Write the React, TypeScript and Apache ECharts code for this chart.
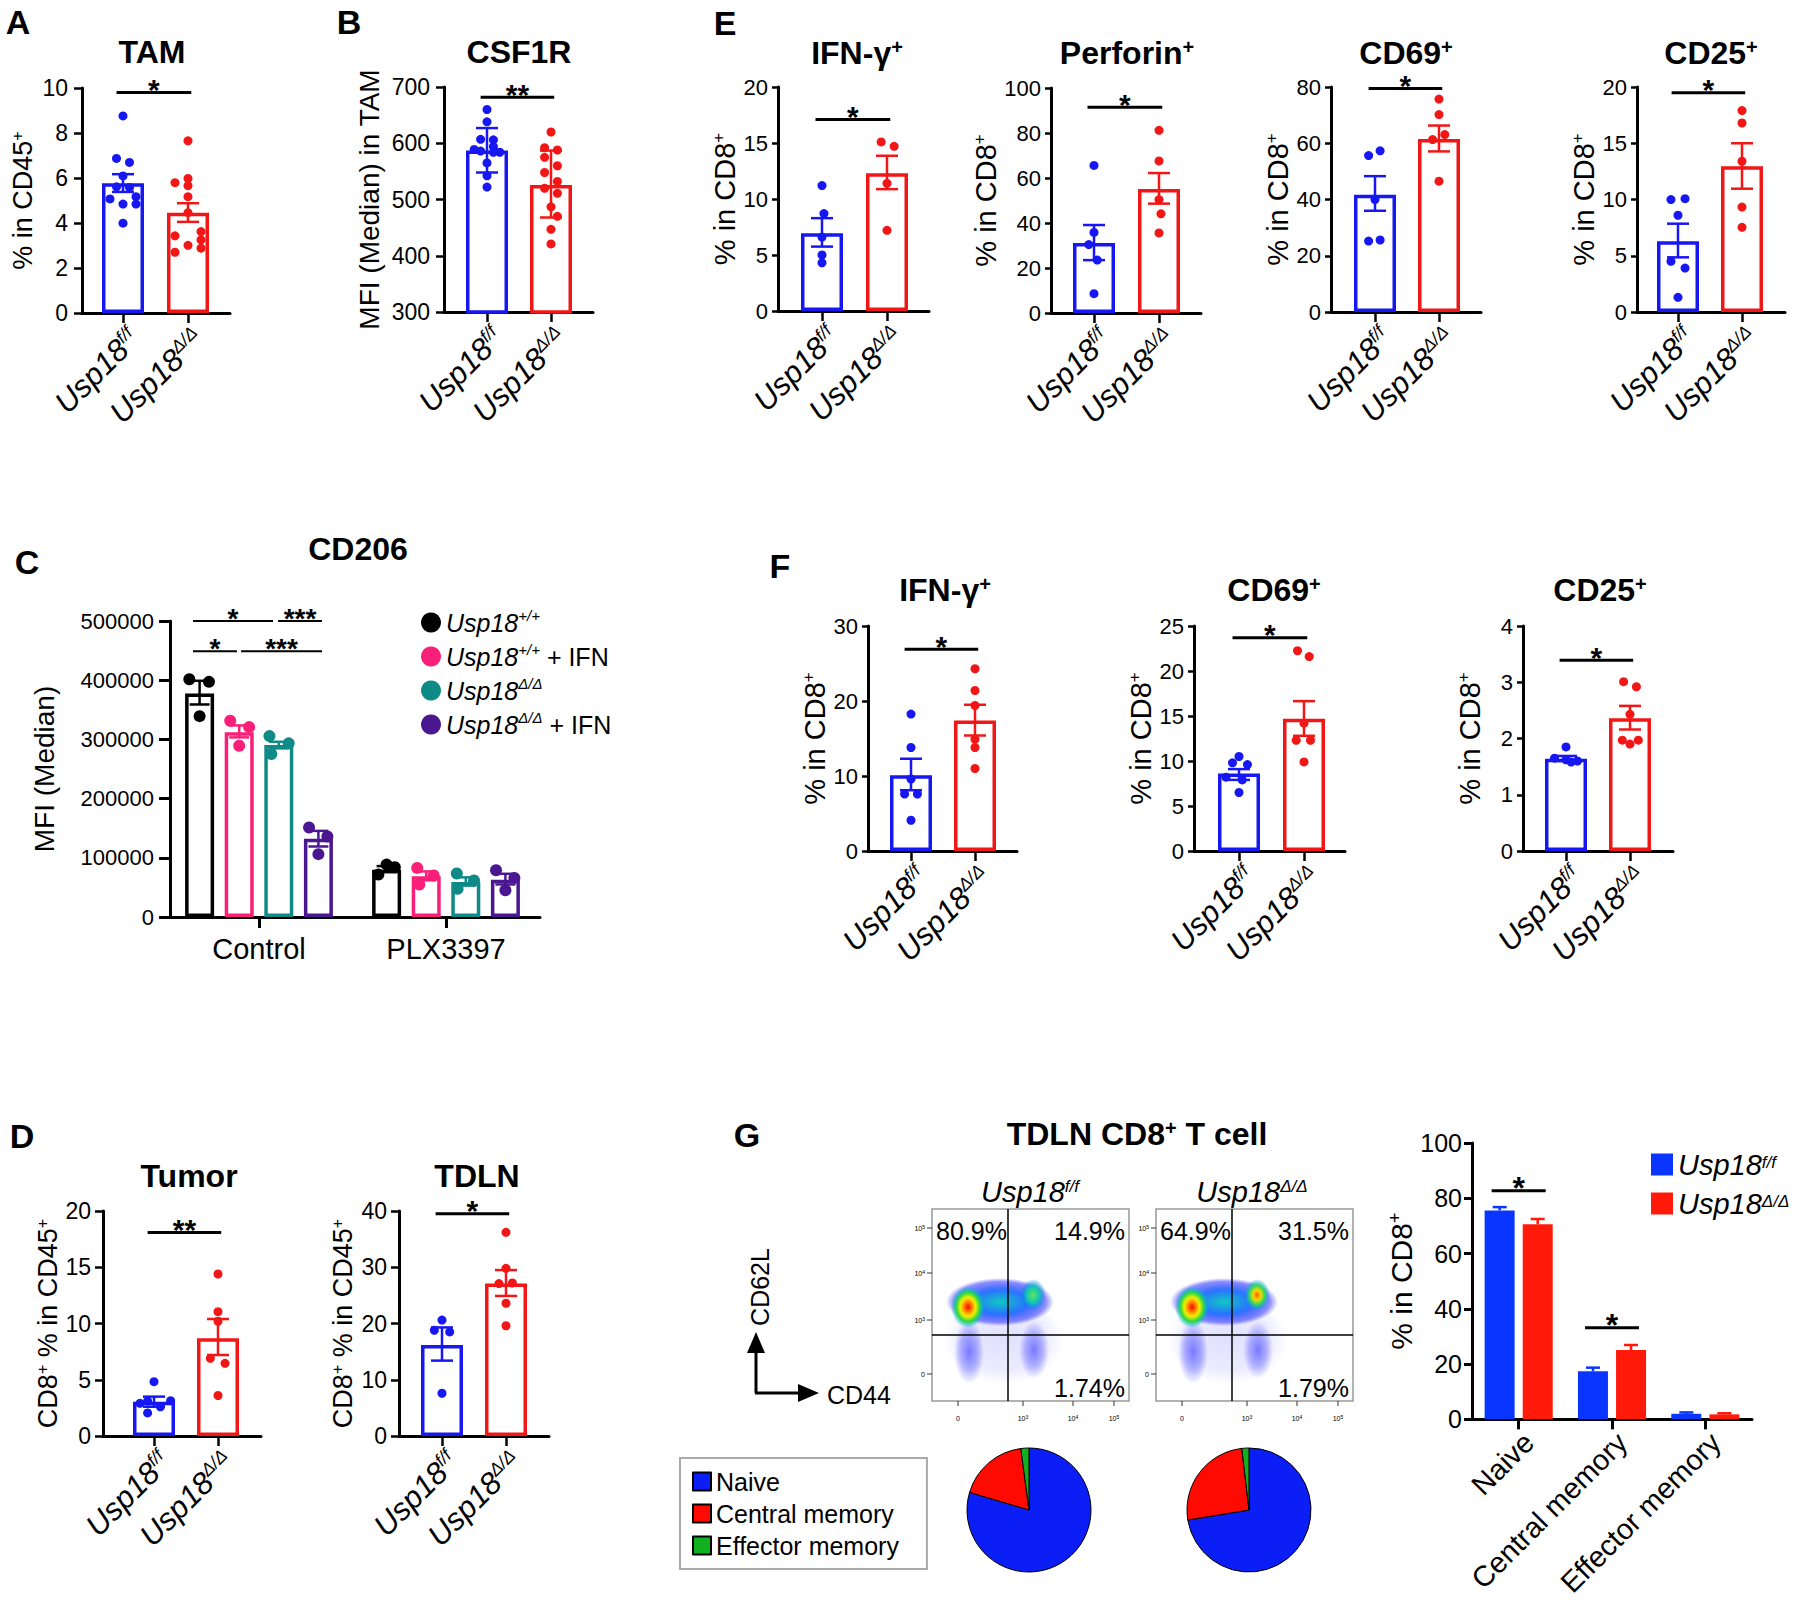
import React, { useEffect, useRef } from "react";
import * as echarts from "echarts";

const FONT = '"Liberation Sans", Arial, Helvetica, sans-serif';
const BLUE = "#1717f2";
const RED = "#f21717";
const BLACK = "#000000";
const PINK = "#fa1f78";
const TEAL = "#0e8b86";
const PURPLE = "#4a1790";
const G_BLUE = "#0a35ff";
const G_RED = "#ff1a0a";
const PIE_BLUE = "#0a1ef5";
const PIE_RED = "#ff0a00";
const PIE_GREEN = "#10b020";

// ---------------- data ----------------
const genoBase = ["Usp18", "Usp18"];
const genoSup = ["f/f", "Δ/Δ"];

// A  TAM (% in CD45+)
const tamMean = [5.77, 4.46];
const tamLow = [5.38, 4.05];
const tamHigh = [6.17, 4.88];
const tamFF = [8.76, 6.87, 6.69, 6.09, 5.61, 5.58, 5.17, 5.07, 4.84, 4.84, 3.99];
const tamFFJit = [0, -0.1, 0.1, 0, -0.1, 0.1, 0.2, -0.2, 0, 0.2, 0];
const tamDD = [7.65, 5.98, 5.79, 5.66, 5.17, 4.46, 3.62, 3.43, 3.25, 3.01, 2.88, 2.7];
const tamDDJit = [0, 0, -0.2, 0, 0, 0, 0.2, -0.2, 0.2, 0, 0.2, -0.2];

// B  CSF1R MFI in TAM
const csfMean = [587, 526];
const csfLow = [548, 468];
const csfHigh = [627, 587];
const csfFF = [660, 638, 607, 606, 594, 589, 586, 584, 584, 565, 542, 522];
const csfFFJit = [0, 0, -0.1, 0.1, 0.1, -0.2, -0.1, 0.1, 0.2, 0, 0, 0];
const csfDD = [620, 592, 588, 575, 560, 548, 532, 520, 511, 487, 470, 447, 421];
const csfDDJit = [0, -0.1, 0.1, -0.1, 0.1, -0.1, 0.1, -0.1, 0.1, 0, 0.1, 0, 0];

// E  tumour CD8 (IFN-γ, Perforin, CD69, CD25)
const e1Mean = [6.94, 12.31];
const e1Low = [5.75, 10.88];
const e1High = [8.29, 13.86];
const e1FF = [11.2, 8.7, 6.6, 5.0, 4.3];
const e1FFJit = [0, 0.03, 0, 0, 0];
const e1DD = [15.1, 14.7, 11.4, 7.2];
const e1DDJit = [-0.09, 0.11, 0, 0];

const e2Mean = [31.1, 55.1];
const e2Low = [23.5, 48.6];
const e2High = [39.1, 62.2];
const e2FF = [65.6, 35.8, 30.4, 23.5, 8.6];
const e2FFJit = [0, 0, -0.08, 0.05, 0];
const e2DD = [81.2, 67.6, 50.4, 44.1, 35.6];
const e2DDJit = [0, 0, 0, 0.03, 0];

const e3Mean = [41.7, 61.5];
const e3Low = [36.0, 57.1];
const e3High = [48.3, 66.3];
const e3FF = [57.3, 55.6, 40.0, 25.6, 25.2];
const e3FFJit = [0.08, -0.1, 0, 0.08, -0.1];
const e3DD = [75.7, 70.2, 63.1, 61.3, 46.5];
const e3DDJit = [0, 0, 0.09, -0.1, 0];

const e4Mean = [6.28, 12.95];
const e4Low = [4.86, 10.96];
const e4High = [7.85, 15.0];
const e4FF = [10.07, 9.99, 8.6, 4.5, 3.9, 1.3];
const e4FFJit = [0.11, -0.11, 0, -0.11, 0.11, 0];
const e4DD = [17.9, 16.8, 13.4, 9.33, 7.53];
const e4DDJit = [0, 0, 0, 0, 0];

// F  TDLN CD8 (IFN-γ, CD69, CD25)
const f1Mean = [10.1, 17.4];
const f1Low = [8.1, 15.4];
const f1High = [12.3, 19.5];
const f1FF = [18.25, 13.8, 9.6, 7.6, 7.6, 4.1];
const f1FFJit = [0, 0, 0, -0.1, 0.1, 0];
const f1DD = [24.3, 21.4, 19.4, 14.9, 13.8, 11.0];
const f1DDJit = [0, 0, 0, 0, 0, 0];

const f2Mean = [8.6, 14.7];
const f2Low = [7.9, 12.8];
const f2High = [9.1, 16.65];
const f2FF = [10.5, 9.8, 9.6, 8.2, 7.9, 6.5];
const f2FFJit = [0, -0.1, 0.13, -0.2, 0.05, 0];
const f2DD = [22.25, 21.6, 14.2, 12.3, 12.3, 9.9];
const f2DDJit = [-0.1, 0.08, 0, -0.12, 0.1, 0];

const f3Mean = [1.64, 2.36];
const f3Low = [1.6, 2.16];
const f3High = [1.69, 2.58];
const f3FF = [1.85, 1.65, 1.62, 1.6, 1.58];
const f3FFJit = [0, -0.18, 0, 0.18, 0.08];
const f3DD = [3.01, 2.92, 2.43, 1.97, 1.97, 1.9];
const f3DDJit = [-0.1, 0.1, 0, -0.12, 0.13, 0];

// D  CD8+ % in CD45+
const tumMean = [3.05, 8.7];
const tumLow = [2.6, 7.2];
const tumHigh = [3.5, 10.4];
const tumFF = [4.83, 3.14, 3.1, 2.9, 2.6, 2.05];
const tumFFJit = [0, 0.26, -0.1, -0.22, 0.1, -0.1];
const tumDD = [14.4, 11.05, 10.2, 6.9, 6.46, 3.6];
const tumDDJit = [0, 0, 0, -0.12, 0.11, 0];

const tdlnMean = [16.2, 27.1];
const tdlnLow = [13.4, 24.9];
const tdlnHigh = [19.3, 29.5];
const tdlnFF = [20.6, 18.8, 18.5, 7.6];
const tdlnFFJit = [0, -0.12, 0.12, 0];
const tdlnDD = [36.2, 29.8, 27.2, 27.1, 23.6, 19.6];
const tdlnDDJit = [0, 0, 0.1, -0.11, 0, 0];

// C  CD206 MFI
const cdCats = ["Control", "PLX3397"];
const cdGroupNames = ["Usp18+/+", "Usp18+/+ + IFN", "Usp18Δ/Δ", "Usp18Δ/Δ + IFN"];
const cdGroupSup = ["+/+", "+/+", "Δ/Δ", "Δ/Δ"];
const cdGroupSuffix = ["", " + IFN", "", " + IFN"];
const cdMeanWT = [377500, 80000];
const cdMeanWTIFN = [312000, 69000];
const cdMeanKO = [290400, 59000];
const cdMeanKOIFN = [132000, 63000];
const cdLowWT = [359000, 76000];
const cdHighWT = [399000, 86000];
const cdLowWTIFN = [303400, 62000];
const cdHighWTIFN = [323600, 77000];
const cdLowKO = [284800, 53000];
const cdHighKO = [296000, 67000];
const cdLowKOIFN = [119100, 55000];
const cdHighKOIFN = [145500, 73000];
const cdPtsWT = [[401700, 397200, 339300], [71700, 88500, 84000]];
const cdPtsWTIFN = [[331500, 320800, 289300], [82900, 70000, 54900]];
const cdPtsKO = [[305600, 293300, 275300], [73400, 61600, 47600]];
const cdPtsKOIFN = [[151100, 136000, 106200], [78900, 66000, 45300]];
const cdJitWT = [[-0.055, 0.05, 0], [-0.044, 0, 0.044]];
const cdJitWTIFN = [[-0.048, 0.053, 0], [-0.048, 0.04, -0.037]];
const cdJitKO = [[-0.05, 0.053, -0.04], [-0.048, 0.044, -0.044]];
const cdJitKOIFN = [[-0.05, 0.048, 0], [-0.05, 0.048, 0]];
const cdSigFrom = [-0.353, 0.102, -0.353, -0.096];
const cdSigTo = [0.075, 0.337, -0.118, 0.337];
const cdSigY = [500000, 500000, 449000, 449000];
const cdSigText = ["*", "***", "*", "***"];

// G  TDLN CD8+ T cell subsets
const gCats = ["Naive", "Central memory", "Effector memory"];
const gFF = [75.6, 17.4, 2.0];
const gFFHigh = [76.8, 18.7, 2.5];
const gDD = [70.6, 25.1, 1.8];
const gDDHigh = [72.5, 26.9, 2.2];
const gSigY = [82.7, 33.1];
const flowFF = ["80.9%", "14.9%", "1.74%"];
const flowDD = ["64.9%", "31.5%", "1.79%"];

// ---------------- helpers ----------------
const supRich = (fs: number, italic: boolean, bold?: boolean, supRatio = 0.6) => ({
  t: { fontSize: fs, fontFamily: FONT, color: "#000", fontStyle: italic ? "italic" : "normal", fontWeight: bold ? "bold" : "normal" },
  s: { fontSize: Math.round(fs * supRatio), fontFamily: FONT, color: "#000", fontStyle: italic ? "italic" : "normal", fontWeight: bold ? "bold" : "normal", verticalAlign: "top" },
});

const geno = (i: number) => `{t|${genoBase[i]}}{s|${genoSup[i]}}`;

function errSeries(gi: number, data: number[][], colors: string[], capHalf: number, lw: number, upperOnly: boolean, pxOff?: number[]) {
  return {
    type: "custom", xAxisIndex: gi, yAxisIndex: gi, z: 5, silent: true, data,
    renderItem: (params: any, api: any) => {
      const x = api.value(0);
      const pl = api.coord([x, api.value(1)]);
      const ph = api.coord([x, api.value(2)]);
      const cx = ph[0] + (pxOff ? pxOff[params.dataIndex] : 0);
      const st = { stroke: colors[params.dataIndex], lineWidth: lw };
      const ch: any[] = [
        { type: "line", shape: { x1: cx, y1: pl[1], x2: cx, y2: ph[1] }, style: st },
        { type: "line", shape: { x1: cx - capHalf, y1: ph[1], x2: cx + capHalf, y2: ph[1] }, style: st },
      ];
      if (!upperOnly) ch.push({ type: "line", shape: { x1: cx - capHalf, y1: pl[1], x2: cx + capHalf, y2: pl[1] }, style: st });
      return { type: "group", children: ch };
    },
  };
}

function sigSeries(gi: number, data: number[][], labels: string[], fs: number, lw: number, pxExt: number) {
  return {
    type: "custom", xAxisIndex: gi, yAxisIndex: gi, z: 6, silent: true, data,
    renderItem: (params: any, api: any) => {
      const y = api.value(2);
      const p0 = api.coord([api.value(0), y]);
      const p1 = api.coord([api.value(1), y]);
      const x0 = p0[0] - pxExt, x1 = p1[0] + pxExt;
      return {
        type: "group",
        children: [
          { type: "line", shape: { x1: x0, y1: p0[1], x2: x1, y2: p0[1] }, style: { stroke: "#000", lineWidth: lw } },
          { type: "text", x: (x0 + x1) / 2, y: p0[1] - 3, style: { text: labels[params.dataIndex], fontFamily: FONT, fontSize: fs, fontWeight: "bold", fill: "#000", align: "center", verticalAlign: "middle" } },
        ],
      };
    },
  };
}

function twoBar(o: any, L: any, D: any) {
  const gi = o.grid.length;
  const unit = L.c1 - L.c0;
  const xMin = -(L.c0 - L.axisX) / unit;
  const xMax = 1 + (L.xEnd - L.c1) / unit;
  o.grid.push({ left: L.axisX, top: L.yTop, width: L.xEnd - L.axisX, height: L.yBot - L.yTop });
  o.xAxis.push({
    type: "value", gridIndex: gi, min: xMin, max: xMax, splitLine: { show: false },
    axisLine: { show: true, onZero: false, lineStyle: { color: "#000", width: 3 } },
    axisTick: { show: true, customValues: [0, 1], length: 10, lineStyle: { color: "#000", width: 2.5 } },
    axisLabel: { show: true, customValues: [0, 1], rotate: 45, margin: 10, verticalAlign: "top", formatter: (v: number) => geno(v), rich: supRich(31, true, false, 0.58) },
  });
  o.yAxis.push({
    type: "value", gridIndex: gi, min: D.min, max: D.max, interval: D.interval, splitLine: { show: false },
    axisLine: { show: true, onZero: false, lineStyle: { color: "#000", width: 3 } },
    axisTick: { show: true, length: L.tickLen || 8, lineStyle: { color: "#000", width: 2.5 } },
    axisLabel: { color: "#000", fontFamily: FONT, fontSize: L.tickFont, margin: L.labMargin, formatter: (v: number) => String(v) },
    name: D.name, nameLocation: "middle", nameRotate: 90, nameGap: L.nameGap,
    nameTextStyle: { rich: supRich(L.nameFont, false) },
  });
  const cols = [BLUE, RED];
  o.series.push({
    type: "bar", xAxisIndex: gi, yAxisIndex: gi, barWidth: L.barW || 42, z: 2, silent: true,
    data: D.mean.map((m: number, i: number) => ({ value: [i, m], itemStyle: { color: "#fff", borderColor: cols[i], borderWidth: 3.5 } })),
  });
  o.series.push({ type: "scatter", xAxisIndex: gi, yAxisIndex: gi, z: 4, silent: true, symbolSize: L.dot || 9, itemStyle: { color: BLUE, opacity: 1 }, data: D.ff.map((v: number, i: number) => [D.ffj[i], v]) });
  o.series.push({ type: "scatter", xAxisIndex: gi, yAxisIndex: gi, z: 4, silent: true, symbolSize: L.dot || 9, itemStyle: { color: RED, opacity: 1 }, data: D.dd.map((v: number, i: number) => [1 + D.ddj[i], v]) });
  o.series.push(errSeries(gi, D.mean.map((_m: number, i: number) => [i, D.low[i], D.high[i]]), cols, 11, 2.5, false));
  o.series.push(sigSeries(gi, [[-0.1, 1.05, D.sigY]], [D.sig], 30, 3, 0));
}

const rg = (stops: any[]) => new echarts.graphic.RadialGradient(0.5, 0.5, 0.5, stops.map((s) => ({ offset: s[0], color: s[1] })));

function gtext(x: number, y: number, text: string, fs: number, opts: any = {}) {
  return {
    type: "text", x, y, silent: true, rotation: opts.rotation || 0,
    style: {
      text, fontFamily: FONT, fontSize: fs, fontWeight: opts.bold ? "bold" : "normal", fontStyle: opts.italic ? "italic" : "normal",
      fill: opts.fill || "#000", align: opts.align || "center", verticalAlign: opts.va || "middle", rich: opts.rich,
    },
  };
}

function flowGraphics(ox: number, pct: string[], hotRight: boolean) {
  const top = 1209, w = 197, h = 192, vx = ox + 76, hy = 1335;
  const els: any[] = [];
  const ell = (cx: number, cy: number, rx: number, ry: number, fill: any) => ({ type: "ellipse", silent: true, shape: { cx, cy, rx, ry }, style: { fill } });
  els.push(ell(ox + 72, 1340, 60, 44, rg([[0, "rgba(60,60,255,0.16)"], [0.7, "rgba(60,60,255,0.10)"], [1, "rgba(60,60,255,0)"]])));
  els.push(ell(ox + 37, 1352, 15, 32, rg([[0, "rgba(30,30,255,0.55)"], [0.6, "rgba(30,30,255,0.3)"], [1, "rgba(30,30,255,0)"]])));
  els.push(ell(ox + 102, 1350, 15, 29, rg([[0, "rgba(30,30,255,0.55)"], [0.6, "rgba(30,30,255,0.28)"], [1, "rgba(30,30,255,0)"]])));
  els.push(ell(ox + 68, 1302, 54, 24, rg([[0, "rgba(0,200,190,0.95)"], [0.5, "rgba(20,100,255,0.9)"], [0.85, "rgba(30,30,255,0.5)"], [1, "rgba(30,30,255,0)"]])));
  els.push(ell(ox + 36, 1307, 17, 21, rg([[0, "#ff0000"], [0.25, "#ff8a00"], [0.45, "#f5ee00"], [0.7, "#22d84a"], [1, "rgba(0,170,255,0)"]])));
  els.push(ell(ox + 101, 1295, 13, 16, hotRight
    ? rg([[0, "#ff5a00"], [0.3, "#f5d800"], [0.6, "#30d860"], [1, "rgba(0,140,255,0)"]])
    : rg([[0, "#60e060"], [0.5, "#10c8b0"], [1, "rgba(0,100,255,0)"]])));
  els.push({ type: "rect", silent: true, shape: { x: ox, y: top, width: w, height: h }, style: { fill: "none", stroke: "#999", lineWidth: 1.5 } });
  els.push({ type: "line", silent: true, shape: { x1: vx, y1: top, x2: vx, y2: top + h }, style: { stroke: "#000", lineWidth: 1.5 } });
  els.push({ type: "line", silent: true, shape: { x1: ox, y1: hy, x2: ox + w, y2: hy }, style: { stroke: "#000", lineWidth: 1.5 } });
  els.push(gtext(ox + 4, 1231, pct[0], 25, { align: "left" }));
  els.push(gtext(ox + w - 4, 1231, pct[1], 25, { align: "right" }));
  els.push(gtext(ox + w - 4, 1388, pct[2], 25, { align: "right" }));
  const tiny = { t: { fontSize: 7, fontFamily: FONT, color: "#444" }, s: { fontSize: 5, fontFamily: FONT, color: "#444", verticalAlign: "top" } };
  const leftY = [1228, 1273, 1320, 1374];
  const leftT = ["{t|10}{s|5}", "{t|10}{s|4}", "{t|10}{s|3}", "{t|0}"];
  leftY.forEach((y, i) => {
    els.push({ type: "line", silent: true, shape: { x1: ox - 5, y1: y, x2: ox, y2: y }, style: { stroke: "#333", lineWidth: 1 } });
    els.push(gtext(ox - 7, y, leftT[i], 7, { align: "right", rich: tiny }));
  });
  const botX = [26, 91, 141, 182];
  botX.forEach((dx, i) => {
    els.push({ type: "line", silent: true, shape: { x1: ox + dx, y1: top + h, x2: ox + dx, y2: top + h + 5 }, style: { stroke: "#333", lineWidth: 1 } });
    els.push(gtext(ox + dx, 1418, leftT[3 - i], 7, { rich: tiny }));
  });
  return els;
}

function buildOption() {
  const o: any = { animation: false, backgroundColor: "#fff", textStyle: { fontFamily: FONT }, grid: [], xAxis: [], yAxis: [], series: [], legend: [], graphic: [] };

  const cd45 = "{t|% in CD45}{s|+}";
  const cd8 = "{t|% in CD8}{s|+}";
  const smallL = { tickFont: 23, nameFont: 27, labMargin: 14, tickLen: 8, nameGap: 46 };
  const eL = { tickFont: 22, nameFont: 29, labMargin: 10, tickLen: 6, nameGap: 39 };

  // A
  twoBar(o, { ...smallL, axisX: 82, c0: 123, c1: 188, xEnd: 230, yTop: 88, yBot: 313 },
    { min: 0, max: 10, interval: 2, mean: tamMean, low: tamLow, high: tamHigh, ff: tamFF, ffj: tamFFJit, dd: tamDD, ddj: tamDDJit, sigY: 9.8, sig: "*", name: cd45 });
  // B
  twoBar(o, { ...smallL, nameFont: 28, nameGap: 61, axisX: 444, c0: 487, c1: 551, xEnd: 593, yTop: 87, yBot: 312 },
    { min: 300, max: 700, interval: 100, mean: csfMean, low: csfLow, high: csfHigh, ff: csfFF, ffj: csfFFJit, dd: csfDD, ddj: csfDDJit, sigY: 682, sig: "**", name: "{t|MFI (Median) in TAM}" });
  // E
  twoBar(o, { ...eL, axisX: 778, c0: 822, c1: 887, xEnd: 929, yTop: 87, yBot: 311 },
    { min: 0, max: 20, interval: 5, mean: e1Mean, low: e1Low, high: e1High, ff: e1FF, ffj: e1FFJit, dd: e1DD, ddj: e1DDJit, sigY: 17.1, sig: "*", name: cd8 });
  twoBar(o, { ...eL, axisX: 1051, c0: 1094, c1: 1159, xEnd: 1201, yTop: 88, yBot: 313 },
    { min: 0, max: 100, interval: 20, mean: e2Mean, low: e2Low, high: e2High, ff: e2FF, ffj: e2FFJit, dd: e2DD, ddj: e2DDJit, sigY: 91.4, sig: "*", name: cd8 });
  twoBar(o, { ...eL, axisX: 1331, c0: 1375, c1: 1439, xEnd: 1481, yTop: 87, yBot: 312 },
    { min: 0, max: 80, interval: 20, mean: e3Mean, low: e3Low, high: e3High, ff: e3FF, ffj: e3FFJit, dd: e3DD, ddj: e3DDJit, sigY: 79.5, sig: "*", name: cd8 });
  twoBar(o, { ...eL, axisX: 1637, c0: 1678, c1: 1742, xEnd: 1785, yTop: 87, yBot: 312 },
    { min: 0, max: 20, interval: 5, mean: e4Mean, low: e4Low, high: e4High, ff: e4FF, ffj: e4FFJit, dd: e4DD, ddj: e4DDJit, sigY: 19.5, sig: "*", name: cd8 });
  // F
  twoBar(o, { ...eL, axisX: 868, c0: 911, c1: 975, xEnd: 1017, yTop: 626, yBot: 851 },
    { min: 0, max: 30, interval: 10, mean: f1Mean, low: f1Low, high: f1High, ff: f1FF, ffj: f1FFJit, dd: f1DD, ddj: f1DDJit, sigY: 26.9, sig: "*", name: cd8 });
  twoBar(o, { ...eL, axisX: 1194, c0: 1239, c1: 1304, xEnd: 1345, yTop: 626, yBot: 851 },
    { min: 0, max: 25, interval: 5, mean: f2Mean, low: f2Low, high: f2High, ff: f2FF, ffj: f2FFJit, dd: f2DD, ddj: f2DDJit, sigY: 23.7, sig: "*", name: cd8 });
  twoBar(o, { ...eL, axisX: 1523, c0: 1566, c1: 1630, xEnd: 1673, yTop: 626, yBot: 851 },
    { min: 0, max: 4, interval: 1, mean: f3Mean, low: f3Low, high: f3High, ff: f3FF, ffj: f3FFJit, dd: f3DD, ddj: f3DDJit, sigY: 3.39, sig: "*", name: cd8 });
  // D
  const dName = "{t|CD8}{s|+}{t| % in CD45}{s|+}";
  twoBar(o, { ...smallL, labMargin: 12, nameGap: 35, axisX: 103, c0: 154, c1: 218, xEnd: 261, yTop: 1211, yBot: 1436 },
    { min: 0, max: 20, interval: 5, mean: tumMean, low: tumLow, high: tumHigh, ff: tumFF, ffj: tumFFJit, dd: tumDD, ddj: tumDDJit, sigY: 18.1, sig: "**", name: dName });
  twoBar(o, { ...smallL, labMargin: 12, nameGap: 43, axisX: 399, c0: 442, c1: 506, xEnd: 549, yTop: 1211, yBot: 1436 },
    { min: 0, max: 40, interval: 10, mean: tdlnMean, low: tdlnLow, high: tdlnHigh, ff: tdlnFF, ffj: tdlnFFJit, dd: tdlnDD, ddj: tdlnDDJit, sigY: 39.5, sig: "*", name: dName });

  // C  CD206
  {
    const gi = o.grid.length;
    const axisX = 170, c0 = 259, c1 = 446, xEnd = 540;
    const unit = c1 - c0;
    o.grid.push({ left: axisX, top: 621, width: xEnd - axisX, height: 917 - 621 });
    o.xAxis.push({
      type: "value", gridIndex: gi, min: -(c0 - axisX) / unit, max: 1 + (xEnd - c1) / unit, splitLine: { show: false },
      axisLine: { show: true, onZero: false, lineStyle: { color: "#000", width: 3 } },
      axisTick: { show: true, customValues: [0, 1], length: 11, lineStyle: { color: "#000", width: 3 } },
      axisLabel: { customValues: [0, 1], color: "#000", fontFamily: FONT, fontSize: 29, margin: 17, formatter: (v: number) => cdCats[v] },
    });
    o.yAxis.push({
      type: "value", gridIndex: gi, min: 0, max: 500000, interval: 100000, splitLine: { show: false },
      axisLine: { show: true, onZero: false, lineStyle: { color: "#000", width: 3 } },
      axisTick: { show: true, length: 11, lineStyle: { color: "#000", width: 3 } },
      axisLabel: { color: "#000", fontFamily: FONT, fontSize: 22, margin: 16, formatter: (v: number) => String(v) },
      name: "{t|MFI (Median)}", nameLocation: "middle", nameRotate: 90, nameGap: 112, nameTextStyle: { rich: supRich(28, false) },
    });
    const step = 39.6 / unit;
    const off = [0, 1, 2, 3].map((k) => (k - 1.5) * step);
    const cols = [BLACK, PINK, TEAL, PURPLE];
    const means = [cdMeanWT, cdMeanWTIFN, cdMeanKO, cdMeanKOIFN];
    const lows = [cdLowWT, cdLowWTIFN, cdLowKO, cdLowKOIFN];
    const highs = [cdHighWT, cdHighWTIFN, cdHighKO, cdHighKOIFN];
    const pts = [cdPtsWT, cdPtsWTIFN, cdPtsKO, cdPtsKOIFN];
    const jits = [cdJitWT, cdJitWTIFN, cdJitKO, cdJitKOIFN];
    const barData: any[] = [];
    const errData: number[][] = [];
    const errCols: string[] = [];
    for (let k = 0; k < 4; k++) {
      for (let c = 0; c < 2; c++) {
        barData.push({ value: [c + off[k], means[k][c]], itemStyle: { color: "#fff", borderColor: cols[k], borderWidth: 3.5 } });
        errData.push([c + off[k], lows[k][c], highs[k][c]]);
        errCols.push(cols[k]);
      }
    }
    o.series.push({ type: "bar", xAxisIndex: gi, yAxisIndex: gi, barWidth: 29, z: 2, silent: true, data: barData });
    for (let k = 0; k < 4; k++) {
      const d: number[][] = [];
      for (let c = 0; c < 2; c++) pts[k][c].forEach((v, i) => d.push([c + off[k] + jits[k][c][i], v]));
      o.series.push({ type: "scatter", name: cdGroupNames[k], xAxisIndex: gi, yAxisIndex: gi, z: 4, silent: true, symbolSize: 12, itemStyle: { color: cols[k], opacity: 1 }, data: d });
    }
    o.series.push(errSeries(gi, errData, errCols, 10, 2.5, false));
    o.series.push(sigSeries(gi, cdSigFrom.map((f, i) => [f, cdSigTo[i], cdSigY[i]]), cdSigText, 28, 2, 0));
    const legRich = { ...supRich(25, true), n: { fontSize: 25, fontFamily: FONT, color: "#000" } };
    o.legend.push({
      orient: "vertical", left: 416, top: 603, itemGap: 5, itemWidth: 20, itemHeight: 20, icon: "circle", selectedMode: false,
      data: cdGroupNames,
      formatter: (name: string) => {
        const k = cdGroupNames.indexOf(name);
        return `{t|Usp18}{s|${cdGroupSup[k]}}` + (cdGroupSuffix[k] ? `{n|${cdGroupSuffix[k]}}` : "");
      },
      textStyle: { rich: legRich, lineHeight: 29 },
    });
  }

  // G bar chart
  {
    const gi = o.grid.length;
    o.grid.push({ left: 1472, top: 1143, width: 280, height: 278 });
    o.xAxis.push({
      type: "category", gridIndex: gi, data: gCats,
      axisLine: { show: true, onZero: false, lineStyle: { color: "#000", width: 3 } },
      axisTick: { show: true, alignWithLabel: true, length: 10, lineStyle: { color: "#000", width: 3 } },
      axisLabel: { rotate: 45, margin: 8, verticalAlign: "top", color: "#000", fontFamily: FONT, fontSize: 29, interval: 0 },
    });
    o.yAxis.push({
      type: "value", gridIndex: gi, min: 0, max: 100, interval: 20, splitLine: { show: false },
      axisLine: { show: true, onZero: false, lineStyle: { color: "#000", width: 3 } },
      axisTick: { show: true, length: 8, lineStyle: { color: "#000", width: 3 } },
      axisLabel: { color: "#000", fontFamily: FONT, fontSize: 25, margin: 10 },
      name: cd8, nameLocation: "middle", nameRotate: 90, nameGap: 52, nameTextStyle: { rich: supRich(30, false) },
    });
    o.series.push({ type: "bar", name: "G_ff", xAxisIndex: gi, yAxisIndex: gi, data: gFF, barWidth: 30, barGap: "27%", itemStyle: { color: G_BLUE }, z: 2, silent: true });
    o.series.push({ type: "bar", name: "G_dd", xAxisIndex: gi, yAxisIndex: gi, data: gDD, barWidth: 30, barGap: "27%", itemStyle: { color: G_RED }, z: 2, silent: true });
    const eData: number[][] = [];
    const eCols: string[] = [];
    const eOff: number[] = [];
    gCats.forEach((_c, i) => {
      eData.push([i, gFF[i], gFFHigh[i]]); eCols.push(G_BLUE); eOff.push(-19);
      eData.push([i, gDD[i], gDDHigh[i]]); eCols.push(G_RED); eOff.push(19);
    });
    o.series.push(errSeries(gi, eData, eCols, 7, 2.5, true, eOff));
    o.series.push(sigSeries(gi, gSigY.map((y, i) => [i, i, y]), ["*", "*"], 32, 3, 27));
    o.legend.push({
      orient: "vertical", left: 1646, top: 1145, itemGap: 10, itemWidth: 22, itemHeight: 22, icon: "rect", selectedMode: false,
      data: ["G_ff", "G_dd"],
      formatter: (name: string) => geno(name === "G_ff" ? 0 : 1),
      textStyle: { rich: supRich(29, true), lineHeight: 22 },
    });
  }

  // G pies
  const pieNames = ["Naive", "Central memory", "Effector memory"];
  const pieCols = [PIE_BLUE, PIE_RED, PIE_GREEN];
  const mkPie = (cx: number, vals: number[]) => ({
    type: "pie", center: [cx, 1510], radius: 62, startAngle: 90, clockwise: true, silent: true,
    label: { show: false }, labelLine: { show: false },
    itemStyle: { borderColor: "#000", borderWidth: 1 },
    data: vals.map((v, i) => ({ name: pieNames[i], value: v, itemStyle: { color: pieCols[i] } })),
  });
  o.series.push(mkPie(1029, gFF));
  o.series.push(mkPie(1249, gDD));
  o.legend.push({
    orient: "vertical", left: 680, top: 1458, itemGap: 7, itemWidth: 18, itemHeight: 18, icon: "rect", selectedMode: false,
    data: pieNames, borderColor: "#aaa", borderWidth: 2, padding: [11, 28, 11, 12],
    textStyle: { fontSize: 25, fontFamily: FONT, color: "#000", lineHeight: 24 },
  });

  // graphics: panel letters, titles, flow plots, arrows
  const g: any[] = [];
  const letters: [string, number, number][] = [["A", 18, 22], ["B", 349, 22], ["E", 725, 23], ["C", 27, 562], ["F", 780, 566], ["D", 22, 1136], ["G", 747, 1135]];
  letters.forEach(([t, x, y]) => g.push(gtext(x, y, t, 34, { bold: true })));
  const bR = supRich(32, false, true, 0.62);
  g.push(gtext(152, 52, "{t|TAM}", 32, { rich: bR }));
  g.push(gtext(519, 52, "{t|CSF1R}", 32, { rich: bR }));
  g.push(gtext(857, 53, "{t|IFN-γ}{s|+}", 32, { rich: bR }));
  g.push(gtext(1127, 53, "{t|Perforin}{s|+}", 32, { rich: bR }));
  g.push(gtext(1406, 53, "{t|CD69}{s|+}", 32, { rich: bR }));
  g.push(gtext(1711, 53, "{t|CD25}{s|+}", 32, { rich: bR }));
  g.push(gtext(358, 549, "{t|CD206}", 32, { rich: bR }));
  g.push(gtext(945, 590, "{t|IFN-γ}{s|+}", 32, { rich: bR }));
  g.push(gtext(1274, 590, "{t|CD69}{s|+}", 32, { rich: bR }));
  g.push(gtext(1600, 590, "{t|CD25}{s|+}", 32, { rich: bR }));
  g.push(gtext(189, 1176, "{t|Tumor}", 32, { rich: bR }));
  g.push(gtext(477, 1176, "{t|TDLN}", 32, { rich: bR }));
  g.push(gtext(1137, 1134, "{t|TDLN CD8}{s|+}{t| T cell}", 32, { rich: bR }));
  g.push(gtext(1030, 1192, geno(0), 29, { rich: supRich(29, true) }));
  g.push(gtext(1252, 1192, geno(1), 29, { rich: supRich(29, true) }));
  flowGraphics(932, flowFF, false).forEach((e) => g.push(e));
  flowGraphics(1156, flowDD, true).forEach((e) => g.push(e));
  // CD62L / CD44 arrows
  g.push({ type: "line", silent: true, shape: { x1: 756, y1: 1393, x2: 756, y2: 1350 }, style: { stroke: "#000", lineWidth: 3 } });
  g.push({ type: "polygon", silent: true, shape: { points: [[747, 1353], [765, 1353], [756, 1332]] }, style: { fill: "#000" } });
  g.push({ type: "line", silent: true, shape: { x1: 755, y1: 1393, x2: 800, y2: 1393 }, style: { stroke: "#000", lineWidth: 3 } });
  g.push({ type: "polygon", silent: true, shape: { points: [[798, 1384], [798, 1402], [819, 1393]] }, style: { fill: "#000" } });
  g.push(gtext(760, 1287, "CD62L", 25, { rotation: Math.PI / 2 }));
  g.push(gtext(827, 1395, "CD44", 25, { align: "left" }));
  o.graphic = { elements: g };
  return o;
}

export default function App() {
  const ref = useRef<HTMLDivElement>(null);
  useEffect(() => {
    const chart = echarts.init(ref.current as HTMLDivElement, null, { renderer: "svg", width: 1800, height: 1600 });
    chart.setOption(buildOption());
    return () => chart.dispose();
  }, []);
  return <div ref={ref} style={{ position: "absolute", left: 0, top: 0, width: 1800, height: 1600, background: "#fff" }} />;
}
